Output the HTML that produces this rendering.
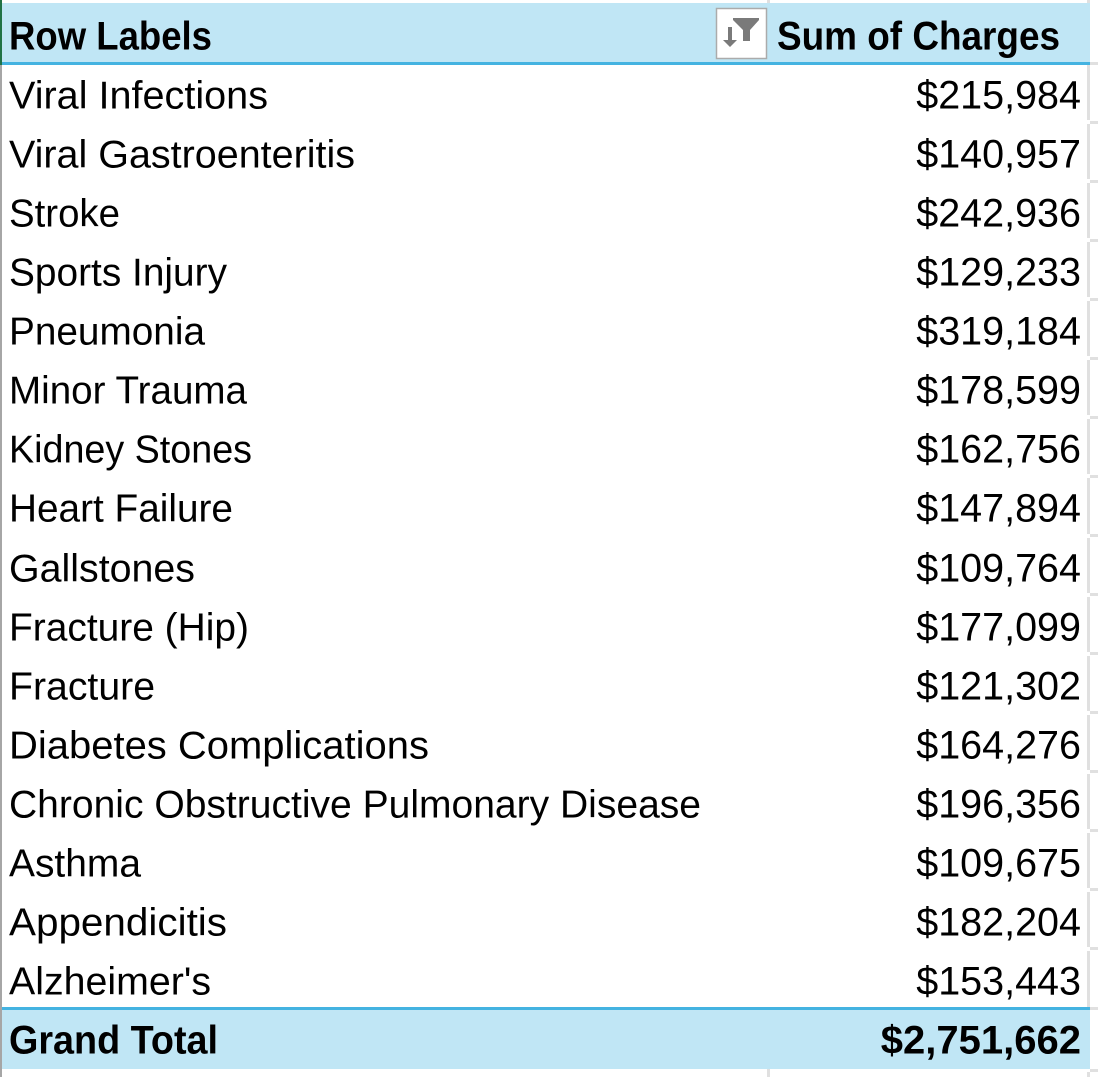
<!DOCTYPE html>
<html lang="en">
<head>
<meta charset="utf-8">
<title>Sum of Charges by Diagnosis</title>
<style>
html,body{margin:0;padding:0;background:#fff;width:1098px;height:1077px;overflow:hidden}
svg{display:block}
text{font-family:"Liberation Sans",Arial,sans-serif;font-size:39px;fill:#000}
.v{font-size:39.5px}
.b{font-weight:700;font-size:40px}
</style>
</head>
<body>
<svg xmlns="http://www.w3.org/2000/svg" width="1098" height="1077" viewBox="0 0 1098 1077">
<g fill="#e0e0e0">
<rect x="767" y="0" width="3" height="3"/><rect x="767" y="1069" width="3" height="8"/>
<rect x="1087" y="0" width="3" height="3"/><rect x="1087" y="1072" width="3" height="5"/>
<rect x="1087" y="65" width="3" height="55"/><rect x="1087" y="124" width="3" height="55"/><rect x="1087" y="183" width="3" height="55"/><rect x="1087" y="242" width="3" height="55"/><rect x="1087" y="301" width="3" height="55"/><rect x="1087" y="360" width="3" height="55"/><rect x="1087" y="419" width="3" height="55"/><rect x="1087" y="478" width="3" height="56"/><rect x="1087" y="538" width="3" height="55"/><rect x="1087" y="597" width="3" height="55"/><rect x="1087" y="656" width="3" height="55"/><rect x="1087" y="715" width="3" height="55"/><rect x="1087" y="774" width="3" height="55"/><rect x="1087" y="833" width="3" height="55"/><rect x="1087" y="892" width="3" height="55"/><rect x="1087" y="951" width="3" height="56"/>
<rect x="1090" y="62" width="8" height="3"/><rect x="1090" y="121" width="8" height="3"/><rect x="1090" y="180" width="8" height="3"/><rect x="1090" y="239" width="8" height="3"/><rect x="1090" y="298" width="8" height="3"/><rect x="1090" y="357" width="8" height="3"/><rect x="1090" y="416" width="8" height="3"/><rect x="1090" y="475" width="8" height="3"/><rect x="1090" y="534" width="8" height="3"/><rect x="1090" y="593" width="8" height="3"/><rect x="1090" y="652" width="8" height="3"/><rect x="1090" y="711" width="8" height="3"/><rect x="1090" y="770" width="8" height="3"/><rect x="1090" y="829" width="8" height="3"/><rect x="1090" y="888" width="8" height="3"/><rect x="1090" y="947" width="8" height="3"/><rect x="1090" y="1007" width="8" height="3"/><rect x="1090" y="1069" width="8" height="3"/>
</g>
<rect x="0" y="0" width="2" height="65" fill="#217346"/>
<rect x="0" y="65" width="2" height="1012" fill="#a6a6a6"/>

<g>
<rect x="2" y="3" width="1088" height="59" fill="#c0e6f5"/>
<rect x="2" y="62" width="1088" height="3" fill="#44b3e1"/>
<text class="b" x="9" y="49.3" textLength="203" lengthAdjust="spacingAndGlyphs">Row Labels</text>
<g>
<rect x="716.5" y="8.5" width="50" height="50" fill="#fff" stroke="#ababab" stroke-width="1.5"/>
<path d="M733 18H759V20L750 30V41H743V30L733 20Z" fill="#7a7a7a"/>
<path d="M728 27H732V40H737L730 47L723 40H728Z" fill="#7a7a7a"/>
</g>
<text class="b" x="777" y="49.3" textLength="283" lengthAdjust="spacingAndGlyphs">Sum of Charges</text>
</g>

<g transform="translate(0,-0.7)">
<g><text x="9" y="109" textLength="259" lengthAdjust="spacingAndGlyphs">Viral Infections</text><text class="v" x="1081" y="109" text-anchor="end">$215,984</text></g>
<g><text x="9" y="168" textLength="346" lengthAdjust="spacingAndGlyphs">Viral Gastroenteritis</text><text class="v" x="1081" y="168" text-anchor="end">$140,957</text></g>
<g><text x="9" y="227" textLength="111" lengthAdjust="spacingAndGlyphs">Stroke</text><text class="v" x="1081" y="227" text-anchor="end">$242,936</text></g>
<g><text x="9" y="286" textLength="218" lengthAdjust="spacingAndGlyphs">Sports Injury</text><text class="v" x="1081" y="286" text-anchor="end">$129,233</text></g>
<g><text x="9" y="345" textLength="196" lengthAdjust="spacingAndGlyphs">Pneumonia</text><text class="v" x="1081" y="345" text-anchor="end">$319,184</text></g>
<g><text x="9" y="404" textLength="238" lengthAdjust="spacingAndGlyphs">Minor Trauma</text><text class="v" x="1081" y="404" text-anchor="end">$178,599</text></g>
<g><text x="9" y="463" textLength="243" lengthAdjust="spacingAndGlyphs">Kidney Stones</text><text class="v" x="1081" y="463" text-anchor="end">$162,756</text></g>
<g><text x="9" y="522" textLength="224" lengthAdjust="spacingAndGlyphs">Heart Failure</text><text class="v" x="1081" y="522" text-anchor="end">$147,894</text></g>
<g><text x="9" y="582" textLength="186" lengthAdjust="spacingAndGlyphs">Gallstones</text><text class="v" x="1081" y="582" text-anchor="end">$109,764</text></g>
<g><text x="9" y="641" textLength="240" lengthAdjust="spacingAndGlyphs">Fracture (Hip)</text><text class="v" x="1081" y="641" text-anchor="end">$177,099</text></g>
<g><text x="9" y="700" textLength="146" lengthAdjust="spacingAndGlyphs">Fracture</text><text class="v" x="1081" y="700" text-anchor="end">$121,302</text></g>
<g><text x="9" y="759" textLength="420" lengthAdjust="spacingAndGlyphs">Diabetes Complications</text><text class="v" x="1081" y="759" text-anchor="end">$164,276</text></g>
<g><text x="9" y="818" textLength="692" lengthAdjust="spacingAndGlyphs">Chronic Obstructive Pulmonary Disease</text><text class="v" x="1081" y="818" text-anchor="end">$196,356</text></g>
<g><text x="9" y="877" textLength="132" lengthAdjust="spacingAndGlyphs">Asthma</text><text class="v" x="1081" y="877" text-anchor="end">$109,675</text></g>
<g><text x="9" y="936" textLength="218" lengthAdjust="spacingAndGlyphs">Appendicitis</text><text class="v" x="1081" y="936" text-anchor="end">$182,204</text></g>
<g><text x="9" y="995" textLength="202" lengthAdjust="spacingAndGlyphs">Alzheimer's</text><text class="v" x="1081" y="995" text-anchor="end">$153,443</text></g>
</g>

<g>
<rect x="2" y="1010" width="1088" height="59" fill="#c0e6f5"/>
<rect x="2" y="1007" width="1088" height="3" fill="#44b3e1"/>
<text class="b" x="9" y="1053.5" textLength="209" lengthAdjust="spacingAndGlyphs">Grand Total</text>
<text class="b" x="1081" y="1053.5" text-anchor="end">$2,751,662</text>
</g>
</svg>
</body>
</html>
